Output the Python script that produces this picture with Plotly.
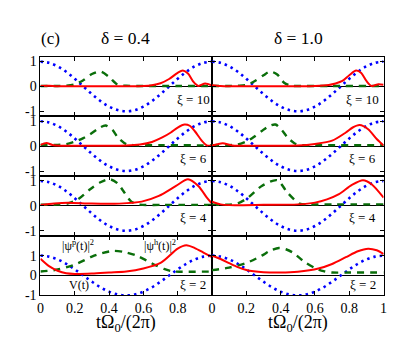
import plotly.graph_objects as go

# ---------------- data ----------------
T_V = [0, 0.05, 0.1, 0.15, 0.2, 0.25, 0.3, 0.35, 0.4, 0.45, 0.5,
       0.55, 0.6, 0.65, 0.7, 0.75, 0.8, 0.85, 0.9, 0.95, 1.0]
V = [1.0, 0.95, 0.81, 0.59, 0.31, 0.0, -0.31, -0.59, -0.81, -0.95, -1.0,
     -0.95, -0.81, -0.59, -0.31, 0.0, 0.31, 0.59, 0.81, 0.95, 1.0]

XI = [10, 6, 4, 2]
DELTA = [0.4, 1.0]
X_TICKS = [0, 0.2, 0.4, 0.6, 0.8, 1.0]
X_TICK_LEFT = ["0", "0.2", "0.4", "0.6", "0.8", ""]
X_TICK_RIGHT = ["0", "0.2", "0.4", "0.6", "0.8", "1"]
Y_TICKS = [-1, 0, 1]
Y_TICK_TEXT = ["-1", "0", "1"]

# xi = 10, delta = 0.4
g_t_10a = [0, 0.1, 0.15, 0.2, 0.25, 0.3, 0.35, 0.4, 0.45, 0.5, 0.6, 0.8, 1.0]
g_y_10a = [0.02, 0.02, 0.03, 0.08, 0.25, 0.5, 0.6, 0.38, 0.07, 0.03, 0.02, 0.02, 0.02]
r_t_10a = [0, 0.05, 0.1, 0.3, 0.5, 0.6, 0.65, 0.7, 0.75, 0.8, 0.83, 0.86, 0.89, 0.92, 0.96, 1.0]
r_y_10a = [0.02, 0.03, 0.01, 0.01, 0.01, 0.02, 0.05, 0.13, 0.3, 0.55, 0.64, 0.52, 0.2, 0.02, 0.12, 0.04]
# xi = 10, delta = 1.0
g_t_10b = [0, 0.1, 0.15, 0.2, 0.25, 0.3, 0.34, 0.38, 0.42, 0.46, 0.5, 0.7, 1.0]
g_y_10b = [0.02, 0.02, 0.03, 0.06, 0.22, 0.45, 0.6, 0.48, 0.15, 0.03, 0.02, 0.02, 0.02]
r_t_10b = [0, 0.05, 0.1, 0.3, 0.5, 0.6, 0.68, 0.72, 0.76, 0.8, 0.84, 0.87, 0.9, 0.93, 0.97, 1.0]
r_y_10b = [0.05, 0.02, 0.01, 0.01, 0.01, 0.02, 0.06, 0.12, 0.22, 0.45, 0.64, 0.54, 0.22, 0.02, 0.09, 0.07]
# xi = 6, delta = 0.4
g_t_6a = [0, 0.1, 0.15, 0.2, 0.25, 0.29, 0.34, 0.38, 0.42, 0.45, 0.5, 0.55, 0.7, 1.0]
g_y_6a = [0.05, 0.05, 0.08, 0.18, 0.32, 0.48, 0.72, 0.83, 0.65, 0.36, 0.08, 0.04, 0.04, 0.03]
r_t_6a = [0, 0.035, 0.07, 0.12, 0.3, 0.5, 0.58, 0.65, 0.71, 0.76, 0.8, 0.84, 0.87, 0.9, 0.94, 0.97, 1.0]
r_y_6a = [0.05, 0.13, 0.05, 0.02, 0.02, 0.03, 0.07, 0.17, 0.35, 0.55, 0.75, 0.87, 0.82, 0.6, 0.22, 0.03, 0.03]
# xi = 6, delta = 1.0
g_t_6b = [0, 0.1, 0.15, 0.21, 0.25, 0.29, 0.33, 0.37, 0.41, 0.44, 0.48, 0.51, 0.6, 1.0]
g_y_6b = [0.04, 0.04, 0.07, 0.22, 0.4, 0.61, 0.8, 0.87, 0.62, 0.35, 0.12, 0.05, 0.04, 0.04]
r_t_6b = [0, 0.03, 0.063, 0.12, 0.3, 0.5, 0.6, 0.7, 0.78, 0.82, 0.86, 0.91, 0.96, 1.0]
r_y_6b = [0.03, 0.08, 0.12, 0.03, 0.02, 0.03, 0.09, 0.22, 0.55, 0.75, 0.85, 0.68, 0.29, 0.03]
# xi = 4, delta = 0.4
g_t_4a = [0, 0.1, 0.16, 0.22, 0.29, 0.35, 0.405, 0.45, 0.49, 0.53, 0.58, 0.7, 1.0]
g_y_4a = [0.05, 0.05, 0.1, 0.27, 0.67, 0.95, 1.07, 0.9, 0.53, 0.17, 0.05, 0.04, 0.04]
r_t_4a = [0, 0.08, 0.16, 0.3, 0.46, 0.59, 0.69, 0.79, 0.86, 0.92, 0.97, 1.0]
r_y_4a = [0.04, 0.1, 0.13, 0.09, 0.09, 0.17, 0.4, 0.8, 1.07, 0.8, 0.33, 0.09]
# xi = 4, delta = 1.0
g_t_4b = [0, 0.1, 0.15, 0.21, 0.29, 0.38, 0.44, 0.51, 0.56, 0.7, 1.0]
g_y_4b = [0.05, 0.05, 0.1, 0.33, 0.8, 1.03, 0.53, 0.09, 0.06, 0.06, 0.06]
r_t_4b = [0, 0.05, 0.1, 0.3, 0.5, 0.6, 0.67, 0.74, 0.815, 0.88, 0.93, 1.0]
r_y_4b = [0.17, 0.06, 0.03, 0.04, 0.06, 0.13, 0.26, 0.47, 0.84, 1.03, 0.87, 0.33]
# xi = 2, delta = 0.4
g_t_2a = [0, 0.1, 0.2, 0.3, 0.36, 0.43, 0.5, 0.56, 0.62, 0.67, 0.72, 0.77, 0.82, 1.0]
g_y_2a = [0.2, 0.3, 0.55, 0.95, 1.13, 1.24, 1.16, 1.0, 0.75, 0.52, 0.33, 0.21, 0.19, 0.2]
r_t_2a = [0, 0.05, 0.1, 0.15, 0.2, 0.3, 0.4, 0.5, 0.6, 0.7, 0.8, 0.85, 0.9, 0.95, 1.0]
r_y_2a = [0.84, 0.47, 0.24, 0.11, 0.08, 0.1, 0.15, 0.2, 0.35, 0.63, 1.35, 1.52, 1.38, 1.15, 0.92]
# xi = 2, delta = 1.0
g_t_2b = [0, 0.1, 0.2, 0.29, 0.34, 0.39, 0.43, 0.47, 0.54, 0.6, 0.65, 0.7, 0.8, 1.0]
g_y_2b = [0.27, 0.4, 0.63, 1.0, 1.25, 1.38, 1.32, 1.16, 0.68, 0.38, 0.22, 0.15, 0.15, 0.15]
r_t_2b = [0, 0.05, 0.1, 0.15, 0.2, 0.3, 0.4, 0.5, 0.62, 0.7, 0.78, 0.85, 0.91, 0.96, 1.0]
r_y_2b = [1.0, 0.83, 0.62, 0.42, 0.28, 0.17, 0.15, 0.19, 0.35, 0.58, 0.92, 1.22, 1.35, 1.27, 1.08]

GREEN = [[(g_t_10a, g_y_10a), (g_t_10b, g_y_10b)],
         [(g_t_6a, g_y_6a), (g_t_6b, g_y_6b)],
         [(g_t_4a, g_y_4a), (g_t_4b, g_y_4b)],
         [(g_t_2a, g_y_2a), (g_t_2b, g_y_2b)]]
RED = [[(r_t_10a, r_y_10a), (r_t_10b, r_y_10b)],
       [(r_t_6a, r_y_6a), (r_t_6b, r_y_6b)],
       [(r_t_4a, r_y_4a), (r_t_4b, r_y_4b)],
       [(r_t_2a, r_y_2a), (r_t_2b, r_y_2b)]]

# ---------------- layout ----------------
W, H = 409, 343
FONT = "Liberation Serif"
X_PX = [(29, 204), (204, 379)]
Y_PX = [48, 109.5, 171, 232.5, 294]

fig = go.Figure()
layout = dict(
    width=W, height=H, margin=dict(l=0, r=0, t=0, b=0),
    paper_bgcolor="white", plot_bgcolor="white", showlegend=False,
    font=dict(family=FONT, size=14, color="black"),
)

for r in range(4):
    for c in range(2):
        k = r * 2 + c + 1
        xa = "x" if k == 1 else f"x{k}"
        ya = "y" if k == 1 else f"y{k}"
        xkey = "xaxis" if k == 1 else f"xaxis{k}"
        ykey = "yaxis" if k == 1 else f"yaxis{k}"
        x0, x1 = X_PX[c]
        layout[xkey] = dict(
            domain=[x0 / W, x1 / W], anchor=ya, range=[0, 1],
            tickvals=X_TICKS, ticktext=(X_TICK_LEFT if c == 0 else X_TICK_RIGHT),
            showticklabels=(r == 3), ticks="inside", ticklen=4, tickcolor="black",
            showline=True, mirror="ticks", linecolor="black", linewidth=1,
            showgrid=False, zeroline=False,
            tickfont=dict(size=14, family=FONT, color="black"),
        )
        yr = [-1, 2] if r == 3 else [-1.2, 1.2]
        layout[ykey] = dict(
            domain=[1 - Y_PX[r + 1] / H, 1 - Y_PX[r] / H], anchor=xa, range=yr,
            tickvals=Y_TICKS, ticktext=Y_TICK_TEXT, showticklabels=(c == 0),
            ticks="inside", ticklen=4, tickcolor="black",
            showline=True, mirror="ticks", linecolor="black", linewidth=1,
            showgrid=False, zeroline=True, zerolinecolor="black", zerolinewidth=1,
            tickfont=dict(size=14, family=FONT, color="black"),
        )
        fig.add_trace(go.Scatter(x=T_V, y=V, xaxis=xa, yaxis=ya, mode="lines",
                                 line=dict(color="#0000ff", width=2.6, dash="2.5px,4px",
                                           shape="spline", smoothing=1.0)))
        gt, gy = GREEN[r][c]
        fig.add_trace(go.Scatter(x=gt, y=gy, xaxis=xa, yaxis=ya, mode="lines",
                                 line=dict(color="#0a6e0a", width=2.4, dash="7px,6px",
                                           shape="spline", smoothing=0.8)))
        rt, ry = RED[r][c]
        fig.add_trace(go.Scatter(x=rt, y=ry, xaxis=xa, yaxis=ya, mode="lines",
                                 line=dict(color="#ff0000", width=2,
                                           shape="spline", smoothing=0.8)))

ann = []
def add(text, px, py, size, xanchor="center"):
    ann.append(dict(text=text, x=px / W, y=1 - py / H, xref="paper", yref="paper",
                    showarrow=False, xanchor=xanchor, yanchor="middle",
                    font=dict(family=FONT, size=size, color="black")))

XI_PY = [92, 153, 214, 283]
for r, xi in enumerate(XI):
    add(f"ξ = {xi}", 185, XI_PY[r], 13)
    add(f"ξ = {xi}", 358, XI_PY[r], 13)

add("(c)", 39, 29, 17)
add(f"δ = {DELTA[0]}", 116, 29, 17.5)
add(f"δ = {DELTA[1]}", 292, 29, 17.5)
add("tΩ<sub>0</sub>/(2π)", 116, 323, 18)
add("tΩ<sub>0</sub>/(2π)", 292, 323, 18)
add("|ψ<sup>p</sup>(t)|<sup>2</sup>", 67, 243, 12)
add("|ψ<sup>h</sup>(t)|<sup>2</sup>", 151, 243, 12)
add("V(t)", 68, 283, 12)

layout["annotations"] = ann
fig.update_layout(**layout)
fig.write_html("out.html")
